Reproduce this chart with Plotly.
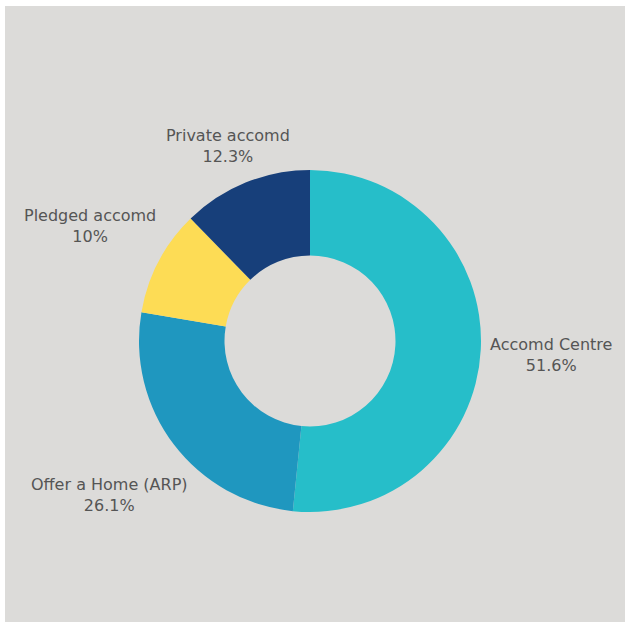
import plotly.graph_objects as go

labels = ["Accomd Centre", "Offer a Home (ARP)", "Pledged accomd", "Private accomd"]
shares = [51.6, 26.1, 10.0, 12.3]
colors = ["#26BEC9", "#1F97BF", "#FDDC55", "#173F7A"]

W, H = 625, 622
ML, MT = 5, 6
cx, cy, r = 310, 341, 171
pw, ph = W - ML, H - MT

# label block centres in page pixels (the original places them by hand)
label_pos = [(551, 355), (110, 495), (90, 226), (228, 146)]

fig = go.Figure()
fig.add_trace(go.Pie(
    labels=labels, values=shares, hole=0.5, sort=False, direction="clockwise",
    rotation=0, marker=dict(colors=colors, line=dict(width=0)),
    textinfo="none", hoverinfo="label+percent",
    showlegend=False, automargin=False,
    domain=dict(x=[(cx - ML - r) / pw, (cx - ML + r) / pw],
                y=[(H - cy - r) / ph, (H - cy + r) / ph]),
))
for lab, val, (px, py) in zip(labels, shares, label_pos):
    fig.add_annotation(
        x=(px - ML) / pw, y=(H - py) / ph, xref="paper", yref="paper",
        text=f"{lab}<br>{val:g}%", showarrow=False, align="center",
        xanchor="center", yanchor="middle",
        font=dict(family="DejaVu Sans", size=16, color="#555555"),
    )
fig.add_shape(type="rect", xref="paper", yref="paper", x0=0, x1=1, y0=0, y1=1,
              fillcolor="#DCDBD9", line=dict(width=0), layer="below")
fig.update_layout(
    width=W, height=H, paper_bgcolor="white", plot_bgcolor="white",
    margin=dict(l=ML, t=MT, r=0, b=0),
)
fig.write_html("out.html", config={"displayModeBar": False},
               post_script="document.body.style.margin='0';document.body.style.overflow='hidden';")
